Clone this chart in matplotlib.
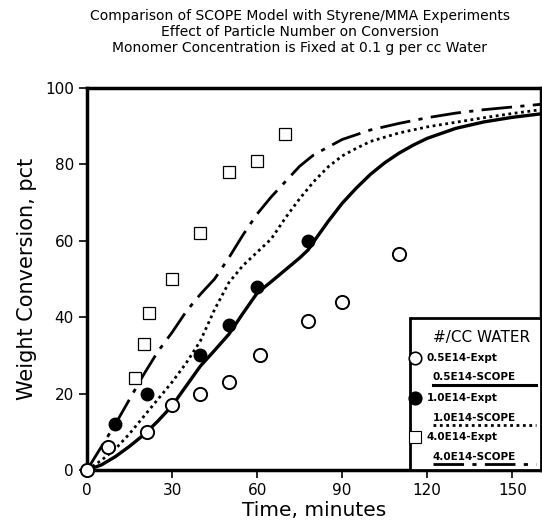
import matplotlib.pyplot as plt
import numpy as np

# experimental points, time in minutes / weight conversion in pct
t_05_expt = [0, 7.5, 21, 30, 40, 50, 61, 78, 90, 110]
y_05_expt = [0, 6, 10, 17, 20, 23, 30, 39, 44, 56.5]

t_10_expt = [10, 21, 40, 50, 60, 78]
y_10_expt = [12, 20, 30, 38, 48, 60]

t_40_expt = [17, 20, 22, 30, 40, 50, 60, 70]
y_40_expt = [24, 33, 41, 50, 62, 78, 81, 88]

# SCOPE model curves
t_05_scope = [0, 5, 10, 15, 20, 25, 30, 35, 40, 45, 50, 55, 60, 65, 70, 75, 78,
              80, 85, 90, 95, 100, 105, 110, 115, 120, 130, 140, 150, 160]
y_05_scope = [0, 1.3, 3.5, 6.2, 9.2, 12.8, 16.8, 22, 27.2, 31.3, 35.5, 41, 46.3,
              49.3, 52.4, 55.5, 57.6, 59.8, 65, 69.8, 73.8, 77.4, 80.4, 82.9,
              85, 86.8, 89.4, 91.1, 92.3, 93.2]

t_10_scope = [0, 5, 10, 15, 20, 25, 30, 35, 40, 45, 50, 55, 60, 65, 70, 75, 80,
              85, 90, 95, 100, 110, 120, 130, 140, 150, 160]
y_10_scope = [0, 2.5, 5.5, 9.5, 14, 18.5, 23, 28, 33.8, 42, 49, 53.5, 57, 60.5,
              66, 71, 75.5, 79.3, 82.2, 84.2, 86, 88.2, 89.8, 91, 92.2, 93.3, 94.3]

t_40_scope = [0, 5, 10, 15, 20, 25, 30, 35, 40, 45, 50, 55, 60, 65, 70, 75, 80,
              90, 100, 110, 120, 130, 140, 150, 160]
y_40_scope = [0, 6, 12, 18.5, 25, 31, 36, 41.5, 46, 50, 55.5, 61.5, 67, 71.5,
              75.5, 79.5, 82.5, 86.5, 89, 90.7, 92.2, 93.4, 94.3, 95, 95.7]

x_ticks = [0, 30, 60, 90, 120, 150]
y_ticks = [0, 20, 40, 60, 80, 100]

title_lines = ['Comparison of SCOPE Model with Styrene/MMA Experiments',
               'Effect of Particle Number on Conversion',
               'Monomer Concentration is Fixed at 0.1 g per cc Water']

solid = '-'
dotted = (0, (1, 1.3))
dashdot = (0, (11, 3, 1.5, 3))

fig = plt.figure(figsize=(5.42, 5.22), dpi=100)
ax = fig.add_axes([0.1605, 0.0996, 0.837, 0.732])

ax.plot(t_05_scope, y_05_scope, color='black', lw=2.4, ls=solid, zorder=2,
        solid_joinstyle='round')
ax.plot(t_10_scope, y_10_scope, color='black', lw=2.0, ls=dotted, zorder=2)
ax.plot(t_40_scope, y_40_scope, color='black', lw=2.0, ls=dashdot, zorder=2)

ax.plot(t_05_expt, y_05_expt, 'o', ms=9.5, mfc='white', mec='black', mew=1.4,
        ls='none', zorder=4, clip_on=False)
ax.plot(t_10_expt, y_10_expt, 'o', ms=9, mfc='black', mec='black',
        ls='none', zorder=4)
ax.plot(t_40_expt, y_40_expt, 's', ms=8.5, mfc='white', mec='black', mew=0.9,
        ls='none', zorder=4)

ax.set_xlim(0, 160)
ax.set_ylim(0, 100)
ax.set_xticks(x_ticks)
ax.set_yticks(y_ticks)
ax.tick_params(direction='out', length=6, width=1.2, labelsize=11)
for s in ax.spines.values():
    s.set_linewidth(2.5)

ax.set_xlabel('Time, minutes', fontsize=14.5, labelpad=2)
ax.set_ylabel('Weight Conversion, pct', fontsize=15, labelpad=6)

for i, line in enumerate(title_lines):
    fig.text(300 / 542, 1 - (16 + 16 * i) / 522, line, ha='center', va='center',
             fontsize=10)

# hand-built legend box in the lower right corner
tr = ax.transAxes
ax.add_patch(plt.Rectangle((0.711, 0.0), 0.289, 0.398, transform=tr,
                           facecolor='white', edgecolor='black', lw=2.0,
                           zorder=5, clip_on=False))
ax.text(0.870, 0.346, '#/CC WATER', transform=tr, ha='center', va='center',
        fontsize=11, zorder=6)

rows = [
    ('o', 'white', '0.5E14-Expt', '0.5E14-SCOPE', solid, 2.2, 0.293, 0.243, 0.223),
    ('o', 'black', '1.0E14-Expt', '1.0E14-SCOPE', dotted, 2.0, 0.188, 0.136, 0.118),
    ('s', 'white', '4.0E14-Expt', '4.0E14-SCOPE', dashdot, 2.0, 0.086, 0.034, 0.016),
]
for mk, fc, expt_lbl, scope_lbl, ls, lw, y_m, y_s, y_u in rows:
    ax.plot([0.724], [y_m], mk, ms=9 if mk == 'o' else 8, mfc=fc, mec='black',
            mew=1.2 if mk == 'o' else 0.8, transform=tr, zorder=6, clip_on=False)
    ax.text(0.749, y_m, expt_lbl, transform=tr, ha='left', va='center',
            fontsize=7.5, fontweight='bold', zorder=6)
    ax.text(0.762, y_s, scope_lbl, transform=tr, ha='left', va='center',
            fontsize=7.5, fontweight='bold', zorder=6)
    ax.plot([0.762, 0.99], [y_u, y_u], color='black', ls=ls, lw=lw,
            transform=tr, zorder=6, clip_on=False)

fig.savefig('out.png', dpi=100)
